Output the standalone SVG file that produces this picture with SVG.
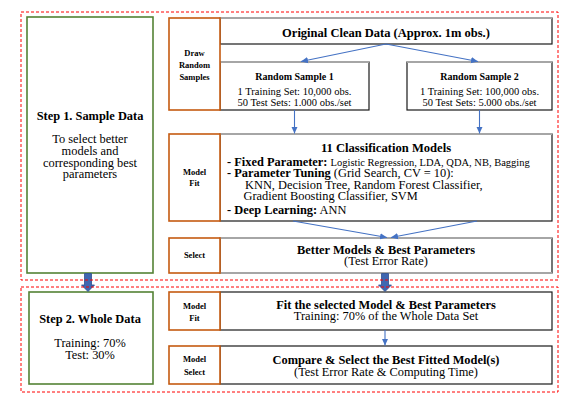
<svg xmlns="http://www.w3.org/2000/svg" width="569" height="404" viewBox="0 0 569 404">
  <defs>
    <marker id="ah" markerWidth="8" markerHeight="8" refX="7" refY="4" orient="auto" markerUnits="userSpaceOnUse">
      <path d="M0,0.8 L7,4 L0,7.2 z" fill="#4472c4"/>
    </marker>
  </defs>
  <style>
    .frame{fill:none;stroke:#f00;stroke-width:1;stroke-dasharray:3 2}
    .step{fill:#fff;stroke:#548235;stroke-width:1.6}
    .tag{fill:#fff;stroke:#c55a11;stroke-width:1.6}
    .box{fill:#fff;stroke:#1a1a1a;stroke-width:1.2}
    .rim{stroke:#a6a6a6;stroke-width:1.8}
    text{font-family:"Liberation Serif","Times New Roman",serif;fill:#000}
    .b{font-weight:bold}
    .c{text-anchor:middle}
    .tg{font-weight:bold;font-size:8.5px;text-anchor:middle}
    .h{font-weight:bold;font-size:12.4px;text-anchor:middle}
    .n{font-size:12.4px;text-anchor:middle}
    .li{font-size:12.4px}
    .link{stroke:#4472c4;stroke-width:1.1;fill:none;marker-end:url(#ah)}
    .block{fill:#3f67b1;stroke:#2f4f8f;stroke-width:0.8}
  </style>

  <!-- step panels -->
  <g id="step1">
    <rect class="step" x="27" y="17" width="126" height="256"/>
    <text class="h" x="90" y="120">Step 1. Sample Data</text>
    <text class="n" x="90" y="143">To select better</text>
    <text class="n" x="90" y="155">models and</text>
    <text class="n" x="90" y="167">corresponding best</text>
    <text class="n" x="90" y="178">parameters</text>
  </g>
  <g id="step2">
    <rect class="step" x="29" y="292" width="124" height="92"/>
    <text class="h" x="90" y="323">Step 2. Whole Data</text>
    <text class="n" x="90" y="347">Training: 70%</text>
    <text class="n" x="90" y="359">Test: 30%</text>
  </g>

  <!-- content boxes -->
  <g id="original">
    <rect class="box" x="220" y="18" width="332" height="26"/>
    <line class="rim" x1="220" y1="18" x2="552" y2="18"/>
    <text class="h" x="386" y="36.5" style="font-size:12.5px">Original Clean Data (Approx. 1m obs.)</text>
  </g>
  <g id="sample1">
    <rect class="box" x="220" y="62" width="149" height="48"/>
    <line class="rim" x1="220" y1="62" x2="369" y2="62"/>
    <text class="c b" x="294.5" y="80" font-size="10">Random Sample 1</text>
    <text class="c" x="294.5" y="94.5" font-size="10.5">1 Training Set: 10,000 obs.</text>
    <text class="c" x="294.5" y="105.5" font-size="10.5">50 Test Sets: 1.000 obs./set</text>
  </g>
  <g id="sample2">
    <rect class="box" x="407" y="62" width="145" height="48"/>
    <line class="rim" x1="407" y1="62" x2="552" y2="62"/>
    <text class="c b" x="479.5" y="80" font-size="10">Random Sample 2</text>
    <text class="c" x="479.5" y="94.5" font-size="10.5">1 Training Set: 100,000 obs.</text>
    <text class="c" x="479.5" y="105.5" font-size="10.5">50 Test Sets: 5.000 obs./set</text>
  </g>
  <g id="models">
    <rect class="box" x="220" y="134" width="332" height="87"/>
    <line class="rim" x1="220" y1="134" x2="552" y2="134"/>
    <text class="h" x="386" y="152" style="font-size:12.6px">11 Classification Models</text>
    <text class="li" x="227" y="165.5"><tspan class="b">- Fixed Parameter: </tspan><tspan font-size="10.5">Logistic Regression,  LDA, QDA, NB, Bagging</tspan></text>
    <text class="li" x="227" y="177"><tspan class="b">- Parameter Tuning</tspan> (Grid Search, CV = 10):</text>
    <text class="li" x="245" y="188.5" font-size="12.7">KNN, Decision Tree, Random Forest Classifier,</text>
    <text class="li" x="243.5" y="200" font-size="12.7">Gradient Boosting Classifier, SVM</text>
    <text class="li" x="227" y="213.5"><tspan class="b">- Deep Learning:</tspan> ANN</text>
  </g>
  <g id="better">
    <rect class="box" x="220" y="238" width="332" height="35"/>
    <line class="rim" x1="220" y1="238" x2="552" y2="238"/>
    <line class="rim" x1="220" y1="273" x2="552" y2="273"/>
    <text class="h" x="386" y="253.5">Better Models &amp; Best Parameters</text>
    <text class="n" x="386" y="265">(Test Error Rate)</text>
  </g>
  <g id="fit">
    <rect class="box" x="220" y="292" width="332" height="38"/>
    <text class="h" x="386" y="308.5">Fit the selected Model &amp; Best Parameters</text>
    <text class="n" x="386" y="320">Training: 70% of the Whole Data Set</text>
  </g>
  <g id="compare">
    <rect class="box" x="220" y="346" width="332" height="38"/>
    <text class="h" x="386" y="363.5">Compare &amp; Select the Best Fitted Model(s)</text>
    <text class="n" x="386" y="375.5">(Test Error Rate &amp; Computing Time)</text>
  </g>

  <!-- stage tags -->
  <g id="tag-draw">
    <rect class="tag" x="169" y="18" width="51" height="92"/>
    <text class="tg" x="194.5" y="56">Draw</text>
    <text class="tg" x="194.5" y="68">Random</text>
    <text class="tg" x="194.5" y="80">Samples</text>
  </g>
  <g id="tag-fit">
    <rect class="tag" x="169" y="134" width="51" height="87"/>
    <text class="tg" x="194.5" y="174.5">Model</text>
    <text class="tg" x="194.5" y="186">Fit</text>
  </g>
  <g id="tag-select">
    <rect class="tag" x="169" y="238" width="51" height="35"/>
    <text class="tg" x="194.5" y="258">Select</text>
  </g>
  <g id="tag-fit2">
    <rect class="tag" x="169" y="292" width="51" height="38"/>
    <text class="tg" x="194.5" y="309">Model</text>
    <text class="tg" x="194.5" y="320.5">Fit</text>
  </g>
  <g id="tag-modelselect">
    <rect class="tag" x="169" y="346" width="51" height="38"/>
    <text class="tg" x="194.5" y="362">Model</text>
    <text class="tg" x="194.5" y="374.5">Select</text>
  </g>

  <!-- connectors -->
  <g id="connectors">
    <path class="link" d="M386,44 L301,61.5"/>
    <path class="link" d="M386,44 L478,61.5"/>
    <path class="link" d="M294.5,110 L294.5,133.5"/>
    <path class="link" d="M479.5,110 L479.5,133.5"/>
    <path class="link" d="M293,221 L387,237.5"/>
    <path class="link" d="M477,221 L391,237.5"/>
    <path class="link" d="M385,330 L385,345.5"/>
    <polygon class="block" points="84.5,273.5 91.5,273.5 91.5,285 94.5,285 88,291.5 81.5,285 84.5,285"/>
    <polygon class="block" points="381.5,273.5 388.5,273.5 388.5,285 391.5,285 385,291.5 378.5,285 381.5,285"/>
  </g>

  <!-- stage frames -->
  <rect class="frame" x="21" y="12" width="537" height="268"/>
  <rect class="frame" x="21" y="287" width="537" height="105"/>
</svg>
